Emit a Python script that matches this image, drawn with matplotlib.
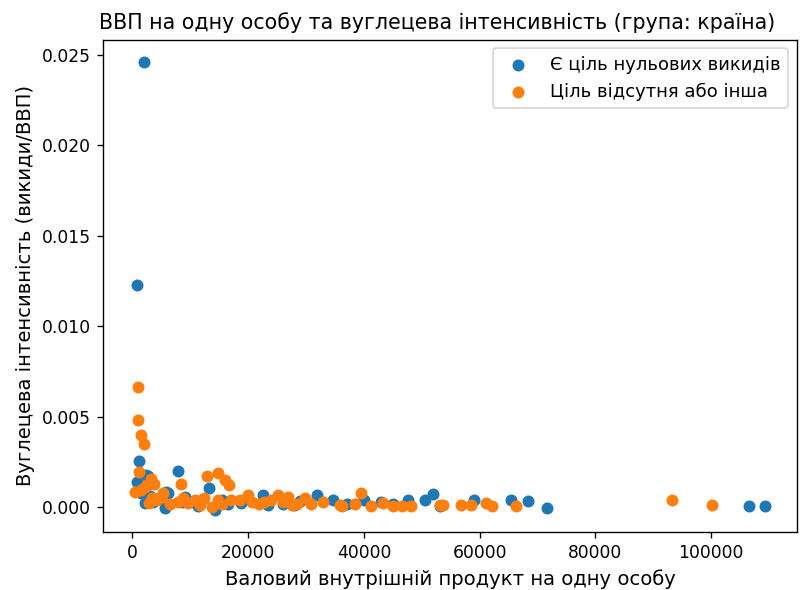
import matplotlib.pyplot as plt

# ВВП на одну особу (x) та вуглецева інтенсивність (y)
blue_x = [2060, 860, 1200, 7900, 2400, 2600, 700, 13300, 6100, 5800, 2100, 5600,
          9000, 11300, 14200, 18700, 22500, 23500, 28000, 31900, 29000, 34700,
          43000, 47600, 50500, 51900, 53100, 59100, 65400, 68400, 71700, 106500,
          109400, 15500, 3500, 4500, 10500, 16500, 12000, 1500, 26000, 37000,
          40000, 45000, 3000, 8500]
blue_y = [0.0246, 0.01225, 0.00256, 0.00202, 0.00178, 0.0017, 0.0014, 0.00104,
          0.00077, 0.00086, 0.00022, -0.00005, 0.00059, 0.00004, -0.00015, 0.00022,
          0.00068, 0.0001, 0.0001, 0.00068, 0.00035, 0.0004, 0.00031, 0.0004,
          0.0004, 0.00071, 0.00004, 0.0004, 0.0004, 0.00035, -0.00002, 0.00004,
          0.00004, 0.0004, 0.0003, 0.0005, 0.0003, 0.0002, 0.0004, 0.0008, 0.0002,
          0.0002, 0.0004, 0.0002, 0.0006, 0.0003]

orange_x = [1000, 1000, 1400, 2000, 1200, 12900, 14800, 16000, 16600, 8300, 3200,
            3800, 400, 1550, 2900, 5000, 7850, 9600, 10800, 12400, 14700, 15500,
            17000, 18500, 19900, 20700, 21900, 24000, 25100, 26000, 26800, 29900,
            28500, 30800, 35900, 36200, 38500, 39450, 41300, 43300, 45000, 46500,
            48200, 53100, 53600, 56800, 58500, 61100, 62200, 66300, 93200, 100100,
            2200, 4200, 6500, 3300, 11600, 13800, 33000, 27500, 22800, 2500, 5200,
            8700]
orange_y = [0.00665, 0.0048, 0.0040, 0.0035, 0.00196, 0.00172, 0.0019, 0.0015,
            0.00123, 0.00126, 0.00156, 0.00126, 0.00086, 0.00095, 0.00022, 0.00059,
            0.00031, 0.00022, 0.0004, 0.0005, 0.0004, 0.0002, 0.0004, 0.0004,
            0.00068, 0.0003, 0.0002, 0.0004, 0.00068, 0.0003, 0.00059, 0.0005,
            0.0002, 0.0002, 0.00013, 0.00004, 0.0002, 0.00077, 0.00004, 0.00022,
            0.00004, 0.00004, 0.00004, 0.0001, 0.0001, 0.0001, 0.0001, 0.00022,
            0.00004, 0.00004, 0.0004, 0.0001, 0.0011, 0.0004, 0.0002, 0.0005,
            0.0001, 0.0000, 0.0003, 0.0001, 0.0003, 0.0012, 0.0008, 0.0005]

# figure rendered at 123 dpi -> 805x590 px
fig, ax = plt.subplots(figsize=(805 / 123, 590 / 123), dpi=123)
fig.subplots_adjust(left=0.1283, right=0.990, top=0.933, bottom=0.0978)

ax.scatter(blue_x, blue_y, color='#1f77b4', label='Є ціль нульових викидів')
ax.scatter(orange_x, orange_y, color='#ff7f0e', label='Ціль відсутня або інша')

# title sits a bit left of the axes centre in the original
ax.set_title('ВВП на одну особу та вуглецева інтенсивність (група: країна)',
             fontsize=12, x=0.481)
ax.set_xlabel('Валовий внутрішній продукт на одну особу', fontsize=11.5)
ax.set_ylabel('Вуглецева інтенсивність (викиди/ВВП)', fontsize=11.5)
ax.legend(loc='upper right', fontsize=10.5)

plt.savefig('out.png', dpi=123)
